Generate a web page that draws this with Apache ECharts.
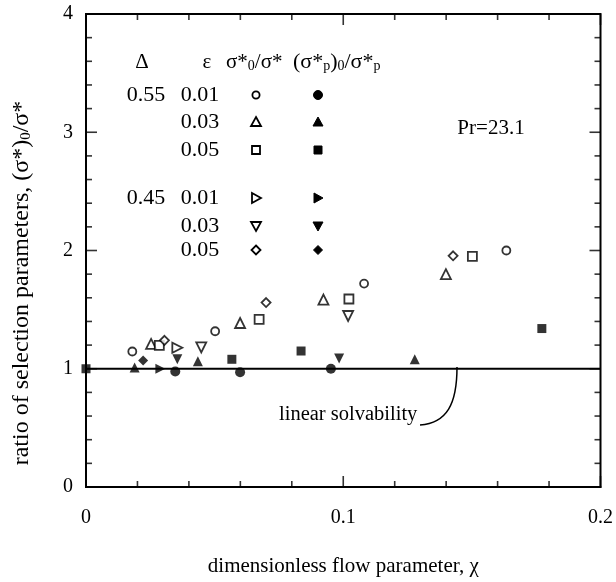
<!DOCTYPE html>
<html>
<head>
<meta charset="utf-8">
<script src="https://cdn.jsdelivr.net/npm/echarts@6/dist/echarts.min.js"></script>
<style>html,body{margin:0;padding:0;background:#fff;}#c{width:616px;height:582px;}</style>
</head>
<body>
<div id="c"></div>
<script>
// ---- data (x = dimensionless flow parameter chi, y = ratio) ----
const xTicks = [0, 0.1, 0.2];
const yTicks = [0, 1, 2, 3, 4];
const xMinorTicks = [0.02, 0.04, 0.06, 0.08, 0.12, 0.14, 0.16, 0.18];
const yMinorTicks = [0.2, 0.4, 0.6, 0.8, 1.2, 1.4, 1.6, 1.8, 2.2, 2.4, 2.6, 2.8, 3.2, 3.4, 3.6, 3.8];
// Delta = 0.55
const openCircle_055_001   = [[0.018,1.146],[0.0502,1.317],[0.1081,1.72],[0.1634,2.0]];
const fillCircle_055_001   = [[0.0347,0.977],[0.0599,0.97],[0.0952,1.0]];
const openTri_055_003      = [[0.0253,1.21],[0.0599,1.387],[0.0923,1.585],[0.1399,1.80]];
const fillTri_055_003      = [[0.0189,1.01],[0.0435,1.064],[0.1278,1.08]];
const openSquare_055_005   = [[0.0285,1.197],[0.0673,1.418],[0.1022,1.59],[0.1502,1.95]];
const fillSquare_055_005   = [[0,1.0],[0.0567,1.08],[0.0836,1.15],[0.1772,1.34]];
// Delta = 0.45
const openRight_045_001    = [[0.0355,1.178]];
const fillRight_045_001    = [[0.0289,1.0]];
const openDown_045_003     = [[0.0448,1.18],[0.1019,1.446]];
const fillDown_045_003     = [[0.0355,1.08],[0.0984,1.087]];
const openDiamond_045_005  = [[0.0305,1.24],[0.07,1.56],[0.1427,1.955]];
const fillDiamond_045_005  = [[0.0222,1.07]];
// linear solvability line
const linearX = [0, 0.2];
const linearY = 1;

const FONT = 'Liberation Serif';
const chart = echarts.init(document.getElementById('c'));
const yBottom = yTicks[0], yTop = yTicks[yTicks.length - 1];
const xLeft = xTicks[0], xRight = xTicks[xTicks.length - 1];

function sc(name, data, symbol, filled, size, rot) {
  return {
    type: 'scatter', name: name, data: data, symbol: symbol, symbolSize: size,
    symbolRotate: rot || 0, z: 5,
    itemStyle: filled ? {color: '#000', borderWidth: 0}
                      : {color: '#fff', borderColor: '#000', borderWidth: 1.8}
  };
}

// Inward tick marks drawn as thin rect symbols at the axis values, shifted inward
const TW = 1.6, LMAJ = 11, LMIN = 6;
function tickSeries(data, size, offset) {
  return {
    type: 'scatter', data: data, symbol: 'rect', symbolSize: size, symbolOffset: offset,
    clip: false, silent: true, z: 6, itemStyle: {color: '#000', borderWidth: 0}
  };
}
const tickSeriesList = [
  tickSeries(xTicks.map(v => [v, yBottom]), [TW, LMAJ], [0, -LMAJ / 2]),
  tickSeries(xMinorTicks.map(v => [v, yBottom]), [TW, LMIN], [0, -LMIN / 2]),
  tickSeries(xTicks.map(v => [v, yTop]), [TW, LMAJ], [0, LMAJ / 2]),
  tickSeries(xMinorTicks.map(v => [v, yTop]), [TW, LMIN], [0, LMIN / 2]),
  tickSeries(yTicks.map(v => [xLeft, v]), [LMAJ, TW], [LMAJ / 2, 0]),
  tickSeries(yMinorTicks.map(v => [xLeft, v]), [LMIN, TW], [LMIN / 2, 0]),
  tickSeries(yTicks.map(v => [xRight, v]), [LMAJ, TW], [-LMAJ / 2, 0]),
  tickSeries(yMinorTicks.map(v => [xRight, v]), [LMIN, TW], [-LMIN / 2, 0])
];

function legendShape(kind, filled, cx, cy) {
  const style = filled ? {fill: '#000', stroke: '#000', lineWidth: 1}
                       : {fill: '#fff', stroke: '#000', lineWidth: 1.8};
  if (kind === 'circle') return {type: 'circle', shape: {cx: cx, cy: cy, r: filled ? 4.5 : 3.6}, style: style};
  if (kind === 'square') return {type: 'rect', shape: {x: cx - 4, y: cy - 4, width: 8, height: 8}, style: style};
  let pts;
  if (kind === 'up') pts = [[cx, cy - 5], [cx + 5, cy + 4], [cx - 5, cy + 4]];
  if (kind === 'down') pts = [[cx, cy + 5], [cx + 5, cy - 4], [cx - 5, cy - 4]];
  if (kind === 'right') pts = [[cx + 5, cy], [cx - 4, cy - 5], [cx - 4, cy + 5]];
  if (kind === 'diamond') pts = [[cx, cy - 4.5], [cx + 4.5, cy], [cx, cy + 4.5], [cx - 4.5, cy]];
  return {type: 'polygon', shape: {points: pts}, style: style};
}
function txt(text, x, y, align, size) {
  return {type: 'text', x: x, y: y, style: {text: text, fontFamily: FONT, fontSize: size || 21, fill: '#000',
    align: align || 'center', verticalAlign: 'middle'}};
}
const rich = {
  s: {fontFamily: FONT, fontSize: 14, lineHeight: 10, verticalAlign: 'bottom'}
};

const rows = [
  {d: '0.55', e: '0.01', k: 'circle', y: 95},
  {d: '', e: '0.03', k: 'up', y: 122},
  {d: '', e: '0.05', k: 'square', y: 150},
  {d: '0.45', e: '0.01', k: 'right', y: 198},
  {d: '', e: '0.03', k: 'down', y: 226},
  {d: '', e: '0.05', k: 'diamond', y: 250}
];
const graphics = [
  txt('Δ', 142, 62), txt('ε', 207, 62),
  {type: 'text', x: 226, y: 62, style: {text: 'σ*{s|0}/σ*', fontFamily: FONT, fontSize: 21, lineHeight: 22, fill: '#000', align: 'left', verticalAlign: 'middle', rich: rich}},
  {type: 'text', x: 293, y: 62, style: {text: '(σ*{s|p}){s|0}/σ*{s|p}', fontFamily: FONT, fontSize: 22, lineHeight: 22, fill: '#000', align: 'left', verticalAlign: 'middle', rich: rich}},
  txt('Pr=23.1', 491, 128),
  txt('linear solvability', 279, 415, 'left', 20.5),
  {type: 'bezierCurve', shape: {x1: 420, y1: 425, x2: 457, y2: 367, cpx1: 447, cpy1: 423, cpx2: 457, cpy2: 404},
   style: {stroke: '#000', lineWidth: 1.5, fill: null}},
  {type: 'text', x: 22, y: 283, rotation: Math.PI / 2,
   style: {text: 'ratio of selection parameters, (σ*){s|0}/σ*', fontFamily: FONT, fontSize: 24, lineHeight: 24, fill: '#000',
     align: 'center', verticalAlign: 'middle', rich: {s: {fontFamily: FONT, fontSize: 15, lineHeight: 11, verticalAlign: 'bottom'}}}}
];
rows.forEach(r => {
  if (r.d) graphics.push(txt(r.d, 146, r.y, 'center', 22));
  graphics.push(txt(r.e, 200, r.y, 'center', 22));
  graphics.push(legendShape(r.k, false, 256, r.y));
  graphics.push(legendShape(r.k, true, 318, r.y));
});

chart.setOption({
  animation: false,
  grid: {left: 86, top: 14, right: 15, bottom: 94, show: true, borderColor: '#000', borderWidth: 2},
  xAxis: [{type: 'value', min: xLeft, max: xRight, interval: 0.1,
    name: 'dimensionless flow parameter, χ', nameLocation: 'middle', nameGap: 69,
    nameTextStyle: {fontFamily: FONT, fontSize: 21, color: '#000'},
    axisLine: {onZero: false, lineStyle: {color: '#000', width: 2}},
    axisTick: {show: false}, minorTick: {show: false}, splitLine: {show: false},
    axisLabel: {fontFamily: FONT, fontSize: 20, color: '#000', margin: 21}}],
  yAxis: [{type: 'value', min: yBottom, max: yTop, interval: 1,
    axisLine: {onZero: false, lineStyle: {color: '#000', width: 2}},
    axisTick: {show: false}, minorTick: {show: false}, splitLine: {show: false},
    axisLabel: {fontFamily: FONT, fontSize: 20, color: '#000', margin: 13}}],
  graphic: graphics,
  series: tickSeriesList.concat([
    {type: 'line', data: linearX.map(x => [x, linearY]), symbol: 'none', lineStyle: {color: '#000', width: 2}, z: 3},
    sc('open circle 0.55/0.01', openCircle_055_001, 'circle', false, 8),
    sc('filled circle 0.55/0.01', fillCircle_055_001, 'circle', true, 10),
    sc('open triangle 0.55/0.03', openTri_055_003, 'triangle', false, 10),
    sc('filled triangle 0.55/0.03', fillTri_055_003, 'triangle', true, 10),
    sc('open square 0.55/0.05', openSquare_055_005, 'rect', false, 9),
    sc('filled square 0.55/0.05', fillSquare_055_005, 'rect', true, 9),
    sc('open right 0.45/0.01', openRight_045_001, 'triangle', false, 10, -90),
    sc('filled right 0.45/0.01', fillRight_045_001, 'triangle', true, 10, -90),
    sc('open down 0.45/0.03', openDown_045_003, 'triangle', false, 10, 180),
    sc('filled down 0.45/0.03', fillDown_045_003, 'triangle', true, 10, 180),
    sc('open diamond 0.45/0.05', openDiamond_045_005, 'diamond', false, 9),
    sc('filled diamond 0.45/0.05', fillDiamond_045_005, 'diamond', true, 10)
  ])
});
</script>
</body>
</html>
